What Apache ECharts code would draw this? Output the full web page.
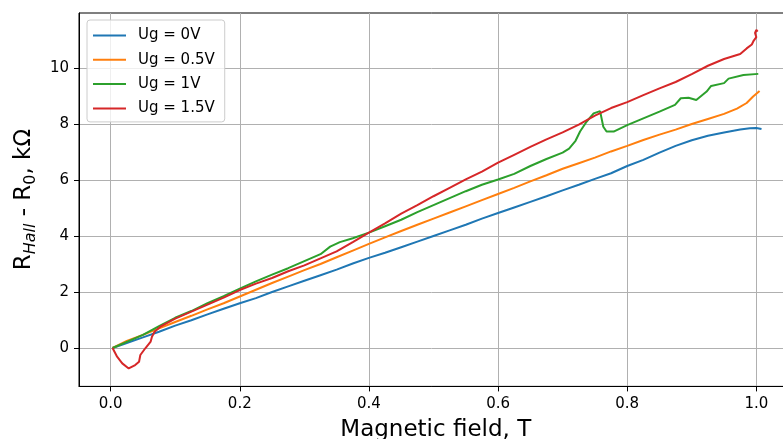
<!DOCTYPE html>
<html>
<head>
<meta charset="utf-8">
<script src="https://cdn.jsdelivr.net/npm/echarts@6/dist/echarts.min.js"></script>
<style>html,body{margin:0;padding:0;background:#fff;}#c{width:783px;height:439px;}</style>
</head>
<body>
<div id="c"></div>
<script>
const seriesNames = ['Ug = 0V', 'Ug = 0.5V', 'Ug = 1V', 'Ug = 1.5V'];
const xTicks = [0, 0.2, 0.4, 0.6, 0.8, 1.0];
const yTicks = [0, 2, 4, 6, 8, 10];

const ug0 = [[0.003,0],[0.025,0.18],[0.05,0.38],[0.075,0.58],[0.1,0.8],[0.125,0.99],[0.15,1.2],[0.175,1.4],[0.2,1.6],[0.225,1.78],[0.25,2.0],[0.275,2.2],[0.3,2.4],[0.325,2.6],[0.35,2.8],[0.375,3.02],[0.4,3.22],[0.425,3.4],[0.45,3.6],[0.475,3.8],[0.5,4.0],[0.525,4.2],[0.55,4.4],[0.575,4.62],[0.6,4.82],[0.625,5.02],[0.65,5.22],[0.675,5.42],[0.7,5.63],[0.725,5.83],[0.75,6.04],[0.775,6.24],[0.8,6.5],[0.825,6.72],[0.85,6.98],[0.875,7.22],[0.9,7.42],[0.925,7.58],[0.95,7.7],[0.975,7.8],[0.99,7.85],[1.0,7.86],[1.008,7.82]];

const ug05 = [[0.003,0],[0.025,0.25],[0.05,0.47],[0.075,0.7],[0.1,0.93],[0.125,1.15],[0.15,1.38],[0.175,1.6],[0.2,1.84],[0.225,2.08],[0.25,2.32],[0.275,2.55],[0.3,2.78],[0.325,3.0],[0.35,3.24],[0.375,3.48],[0.4,3.72],[0.425,3.95],[0.45,4.18],[0.475,4.4],[0.5,4.62],[0.525,4.84],[0.55,5.06],[0.575,5.28],[0.6,5.5],[0.625,5.72],[0.65,5.95],[0.675,6.17],[0.7,6.4],[0.725,6.6],[0.75,6.8],[0.775,7.02],[0.8,7.22],[0.825,7.43],[0.85,7.62],[0.875,7.8],[0.9,8.0],[0.925,8.18],[0.95,8.36],[0.97,8.55],[0.985,8.75],[0.995,8.98],[1.005,9.18]];

const ug1 = [[0.003,0],[0.025,0.22],[0.05,0.47],[0.075,0.78],[0.1,1.08],[0.125,1.32],[0.15,1.6],[0.175,1.85],[0.2,2.12],[0.225,2.38],[0.25,2.62],[0.275,2.85],[0.3,3.1],[0.325,3.35],[0.34,3.62],[0.355,3.78],[0.375,3.92],[0.4,4.12],[0.425,4.35],[0.45,4.58],[0.475,4.85],[0.5,5.1],[0.525,5.35],[0.55,5.6],[0.575,5.83],[0.6,6.02],[0.625,6.22],[0.65,6.5],[0.675,6.75],[0.7,6.98],[0.71,7.12],[0.72,7.4],[0.727,7.73],[0.737,8.08],[0.748,8.38],[0.758,8.46],[0.763,7.9],[0.768,7.73],[0.779,7.73],[0.8,7.96],[0.825,8.2],[0.85,8.44],[0.874,8.68],[0.883,8.92],[0.895,8.94],[0.907,8.86],[0.923,9.16],[0.93,9.36],[0.95,9.46],[0.957,9.62],[0.98,9.75],[1.003,9.79]];

const ug15 = [[0.003,0],[0.01,-0.31],[0.018,-0.55],[0.028,-0.73],[0.038,-0.61],[0.044,-0.49],[0.046,-0.25],[0.054,0],[0.062,0.23],[0.064,0.4],[0.068,0.58],[0.077,0.76],[0.1,1.05],[0.125,1.3],[0.15,1.55],[0.175,1.8],[0.2,2.07],[0.225,2.3],[0.25,2.5],[0.275,2.74],[0.3,2.95],[0.325,3.2],[0.35,3.45],[0.375,3.78],[0.4,4.12],[0.425,4.45],[0.45,4.8],[0.475,5.1],[0.5,5.42],[0.525,5.72],[0.55,6.02],[0.575,6.3],[0.6,6.62],[0.625,6.9],[0.65,7.18],[0.675,7.45],[0.7,7.7],[0.725,7.98],[0.75,8.3],[0.775,8.57],[0.8,8.78],[0.825,9.03],[0.85,9.27],[0.875,9.5],[0.9,9.78],[0.925,10.08],[0.95,10.32],[0.975,10.5],[0.985,10.7],[0.993,10.84],[0.996,10.98],[1.0,11.1],[0.998,11.25],[1.0,11.36],[1.002,11.3]];

const colors = ['#1f77b4', '#ff7f0e', '#2ca02c', '#d62728'];
const allData = [ug0, ug05, ug1, ug15];
const FONT = 'DejaVu Sans';

const chart = echarts.init(document.getElementById('c'), null, {renderer: 'canvas'});
chart.setOption({
  animation: false,
  backgroundColor: '#fff',
  color: colors,
  grid: {left: 79, top: 13, width: 713.5, height: 373.4, containLabel: false, outerBoundsMode: 'none',
    show: true, borderColor: '#000', borderWidth: 1, backgroundColor: 'transparent'},
  legend: {
    orient: 'vertical', left: 87, top: 20,
    padding: [8, 10, 6, 6],
    icon: 'rect',
    itemWidth: 33, itemHeight: 2, itemGap: 9.3,
    backgroundColor: 'rgba(255,255,255,0.8)',
    borderColor: '#cccccc', borderWidth: 1, borderRadius: 3,
    textStyle: {fontFamily: FONT, fontSize: 15, color: '#000', padding: [0, 0, 0, 7]},
    data: seriesNames
  },
  xAxis: {
    type: 'value', min: -0.049, max: 1.056,
    axisLine: {show: true, onZero: false, lineStyle: {color: '#000', width: 1}},
    axisTick: {show: true, length: 5, customValues: xTicks, lineStyle: {color: '#000'}},
    axisLabel: {customValues: xTicks, fontFamily: FONT, fontSize: 15, color: '#000', margin: 10,
      formatter: v => v.toFixed(1)},
    splitLine: {show: true, lineStyle: {color: '#b0b0b0', width: 1}},
    name: 'Magnetic field, T', nameLocation: 'middle', nameGap: 32,
    nameTextStyle: {fontFamily: FONT, fontSize: 23, color: '#000'}
  },
  yAxis: {
    type: 'value', min: -1.371, max: 11.964,
    axisLine: {show: true, onZero: false, lineStyle: {color: '#000', width: 1}},
    axisTick: {show: true, length: 5, customValues: yTicks, lineStyle: {color: '#000'}},
    axisLabel: {customValues: yTicks, fontFamily: FONT, fontSize: 15, color: '#000', margin: 10},
    splitLine: {show: true, lineStyle: {color: '#b0b0b0', width: 1}},
    name: '{n|R}{s|Hall}{n| - R}{z|0}{n|, kΩ}', nameLocation: 'middle', nameGap: 38,
    nameTextStyle: {
      fontFamily: FONT, color: '#000',
      rich: {
        n: {fontFamily: FONT, fontSize: 23, lineHeight: 30, verticalAlign: 'middle', color: '#000'},
        s: {fontFamily: FONT, fontSize: 16, fontStyle: 'italic', lineHeight: 30, verticalAlign: 'bottom', color: '#000'},
        z: {fontFamily: FONT, fontSize: 16, lineHeight: 30, verticalAlign: 'bottom', color: '#000'}
      }
    }
  },
  series: allData.map((d, i) => ({
    name: seriesNames[i], type: 'line', data: d, symbol: 'none', showSymbol: false,
    lineStyle: {width: 2, color: colors[i]}, itemStyle: {color: colors[i]},
    clip: true, z: 2 + i
  }))
});
</script>
</body>
</html>
